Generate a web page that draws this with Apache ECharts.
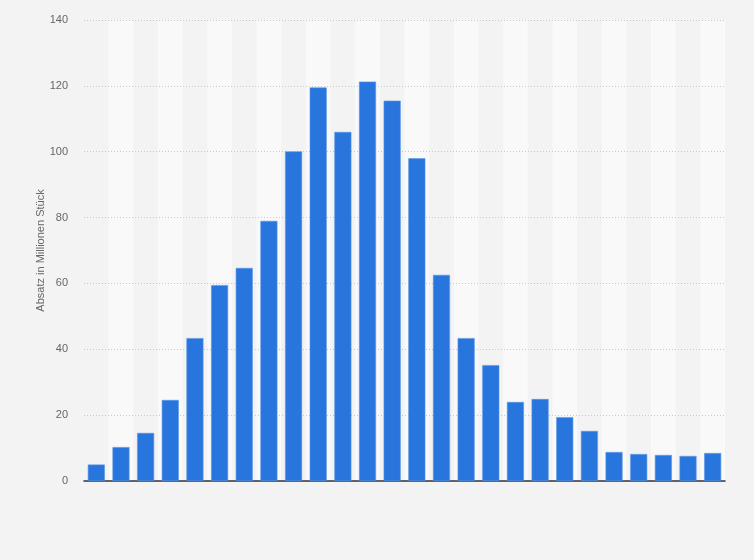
<!DOCTYPE html>
<html>
<head>
<meta charset="utf-8">
<script src="https://cdn.jsdelivr.net/npm/echarts@6/dist/echarts.min.js"></script>
<style>
html,body{margin:0;padding:0;background:#f3f3f3;}
#chart{width:754px;height:560px;}
</style>
</head>
<body>
<div id="chart"></div>
<script>
const categories = ['1','2','3','4','5','6','7','8','9','10','11','12','13','14','15','16','17','18','19','20','21','22','23','24','25','26'];
const values = [5, 10.3, 14.6, 24.6, 43.4, 59.5, 64.7, 79, 100.1, 119.5, 106, 121.3, 115.5, 98, 62.6, 43.4, 35.2, 24, 24.9, 19.4, 15.2, 8.8, 8.2, 7.9, 7.6, 8.5];
const yTicks = { min: 0, max: 140, interval: 20 };
const yName = 'Absatz in Millionen Stück';

const chart = echarts.init(document.getElementById('chart'), null, {renderer: 'canvas'});
chart.setOption({
  backgroundColor: '#f3f3f3',
  animation: false,
  textStyle: { fontFamily: 'Arial, "Liberation Sans", sans-serif' },
  grid: { left: 84, right: 29, top: 20, bottom: 79 },
  xAxis: {
    type: 'category',
    data: categories,
    z: 0,
    axisLine: { show: true, lineStyle: { color: '#333', width: 1.5 } },
    axisTick: { show: false },
    axisLabel: { show: false },
    splitArea: { show: true, areaStyle: { color: ['rgba(0,0,0,0)', 'rgba(255,255,255,0.5)'] } }
  },
  yAxis: {
    type: 'value',
    z: 1,
    min: yTicks.min, max: yTicks.max, interval: yTicks.interval,
    name: yName,
    nameLocation: 'middle',
    nameGap: 38,
    nameMoveOverlap: false,
    nameTextStyle: { color: '#666', fontSize: 11 },
    axisLine: { show: false },
    axisTick: { show: false },
    axisLabel: { color: '#666', fontSize: 11, margin: 16 },
    splitLine: { showMinLine: false, lineStyle: { color: '#c8c8c8', type: [1, 2], width: 1 } }
  },
  series: [{
    type: 'bar',
    data: values,
    barWidth: '69%',
    z: 3,
    itemStyle: { color: '#2876dd', borderColor: '#5b96e6', borderWidth: 0.6 }
  }]
});
</script>
</body>
</html>
